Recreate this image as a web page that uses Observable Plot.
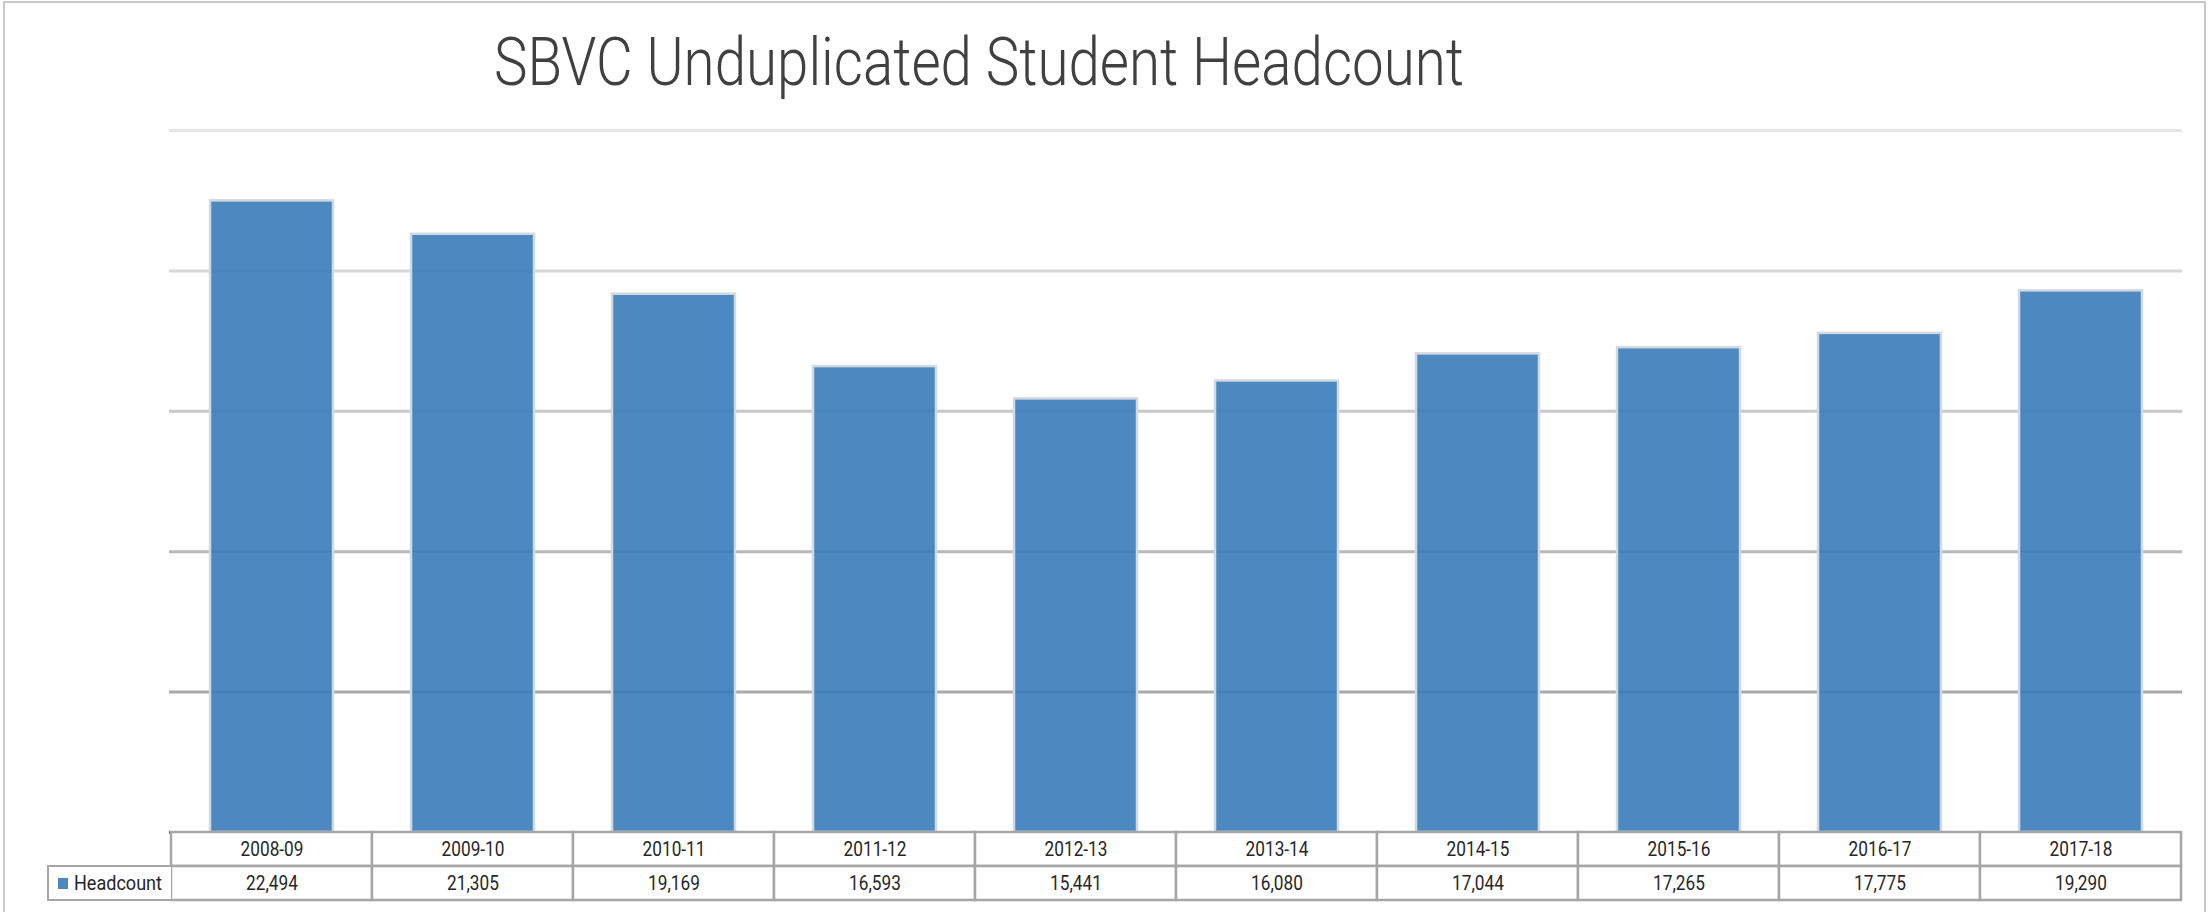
<!DOCTYPE html>
<html>
<head>
<meta charset="utf-8">
<script src="https://cdn.jsdelivr.net/npm/d3@7"></script>
<script src="https://cdn.jsdelivr.net/npm/@observablehq/plot@0.6"></script>
<style>
  html, body { margin: 0; padding: 0; background: #fff; }
  #root { position: relative; width: 2211px; height: 912px; overflow: hidden; background: #fff; }
  #frame { position: absolute; left: 3px; top: 1px; width: 2203px; height: 960px; border: 2px solid #c9c9c9; box-sizing: border-box; }
  #title { position: absolute; left: 494px; top: 30px; font-family: Roboto, sans-serif; font-weight: 300; font-size: 66px; color: #404040; white-space: nowrap; line-height: 1; transform-origin: 0 0; }
  #plot1 { position: absolute; left: 0; top: 0; }
  #plot2 { position: absolute; left: 0; top: 830px; }
  #legend { position: absolute; left: 47px; top: 865px; width: 124px; height: 36px; border: 2px solid #a6a6a6; border-right: none; box-sizing: border-box; background: #fff;
            font-family: Roboto, sans-serif; font-size: 20.5px; color: #262626; display: flex; align-items: center; }
  #legend .key { width: 10px; height: 11px; background: #4b89c0; margin-left: 9px; margin-right: 6px; flex: none; }
  #legend .lbl { display: inline-block; transform-origin: 0 50%; transform: scaleX(0.88); }
</style>
</head>
<body>
<div id="root">
  <div id="frame"></div>
  <div id="plot1"></div>
  <div id="plot2"></div>
  <div id="legend"><span class="key"></span><span class="lbl">Headcount</span></div>
  <div id="title">SBVC Unduplicated Student Headcount</div>
</div>
<script>
const years = ["2008-09","2009-10","2010-11","2011-12","2012-13","2013-14","2014-15","2015-16","2016-17","2017-18"];
const headcount = [22494, 21305, 19169, 16593, 15441, 16080, 17044, 17265, 17775, 19290];
const gridTicks = [5000, 10000, 15000, 20000, 25000];
const seriesName = "Headcount";

const data = years.map((y, i) => ({year: y, count: headcount[i]}));
const gridColor = d3.scaleLinear().domain([5000, 25000]).range(["#a9a9a9", "#e6e6e6"]);

const plot1 = Plot.plot({
  width: 2211,
  height: 834,
  marginTop: 130,
  marginBottom: 2,
  marginLeft: 169,
  marginRight: 29,
  style: {background: "transparent", overflow: "visible"},
  x: {domain: years, paddingInner: 0.39, paddingOuter: 0.195, axis: null},
  y: {domain: [0, 25000], axis: null},
  marks: [
    Plot.ruleY(gridTicks, {stroke: d => gridColor(d), strokeWidth: 3}),
    Plot.barY(data, {x: "year", y: "count", fill: "#377cb9", fillOpacity: 0.9, stroke: "#d3d9e2", strokeWidth: 2.5}),
    Plot.ruleY([0], {stroke: "#5e5e5e", strokeWidth: 3})
  ]
});
document.getElementById("plot1").appendChild(plot1);

const rows = ["cat", "val"];
const cells = [];
years.forEach((y, i) => {
  cells.push({year: y, row: "cat", label: y});
  cells.push({year: y, row: "val", label: d3.format(",")(headcount[i])});
});

const plot2 = Plot.plot({
  width: 2211,
  height: 72,
  marginTop: 2,
  marginBottom: 2,
  marginLeft: 169,
  marginRight: 29,
  style: {background: "transparent", overflow: "visible"},
  x: {domain: years, padding: 0, axis: null},
  y: {domain: rows, padding: 0, axis: null},
  marks: [
    Plot.cell(cells, {x: "year", y: "row", fill: "#fff", stroke: "#a6a6a6", strokeWidth: 2.5}),
    Plot.text(cells, {x: "year", y: "row", text: "label", fill: "#262626", fontSize: 20.5,
      fontFamily: "Roboto, sans-serif"})
  ]
});
document.getElementById("plot2").appendChild(plot2);

// condense the table text, like the narrow font of the original
plot2.querySelectorAll("text").forEach(t => {
  const len = t.getComputedTextLength();
  if (len > 0) {
    t.setAttribute("textLength", (len * 0.84).toFixed(1));
    t.setAttribute("lengthAdjust", "spacingAndGlyphs");
  }
});

// fit the title to the width it spans in the original
const title = document.getElementById("title");
const w = title.getBoundingClientRect().width;
title.style.transform = `scaleX(${970 / w})`;
</script>
</body>
</html>
